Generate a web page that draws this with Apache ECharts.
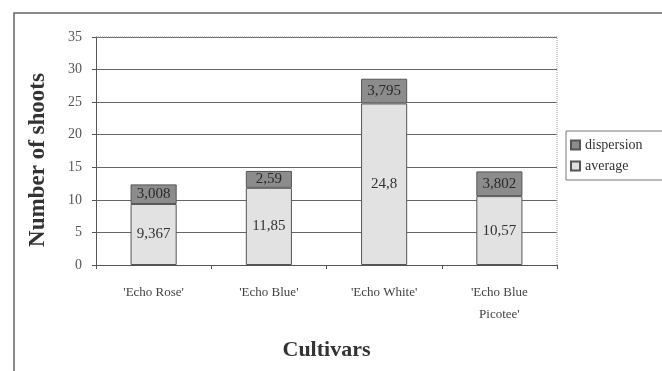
<!DOCTYPE html>
<html>
<head>
<meta charset="utf-8">
<script src="https://cdn.jsdelivr.net/npm/echarts@6/dist/echarts.min.js"></script>
<style>
html,body{margin:0;padding:0;background:#fff;}
#chart{width:662px;height:371px;}
</style>
</head>
<body>
<div id="chart"></div>
<script>
// Shoot counts per cultivar: mean value plus dispersion stacked on top
var cultivars = ["'Echo Rose'", "'Echo Blue'", "'Echo White'", "'Echo Blue\nPicotee'"];
var averageValues = [9.367, 11.85, 24.8, 10.57];
var dispersionValues = [3.008, 2.59, 3.795, 3.802];
var yTicks = [0, 5, 10, 15, 20, 25, 30, 35];

var serif = '"Liberation Serif", "DejaVu Serif", serif';

function commaDecimal(p) { return String(p.value).replace('.', ','); }

var chart = echarts.init(document.getElementById('chart'));
chart.setOption({
  backgroundColor: '#fff',
  animation: false,
  grid: { left: 96, right: 105, top: 37, bottom: 106, show: false },
  graphic: [
    {
      type: 'rect',
      shape: { x: 14, y: 13, width: 680, height: 400 },
      style: { fill: 'none', stroke: '#666', lineWidth: 1.5 },
      silent: true
    },
    {
      // dotted frame along the top and right of the plot area
      type: 'polyline',
      shape: { points: [[96, 37], [557, 37], [557, 265]] },
      style: { stroke: '#999', lineWidth: 1, lineDash: [1, 1], fill: 'none' },
      silent: true,
      z: 5
    }
  ],
  legend: {
    orient: 'vertical',
    left: 566,
    top: 131,
    data: [
      { name: 'dispersion', icon: 'rect' },
      { name: 'average', icon: 'rect' }
    ],
    itemWidth: 9,
    itemHeight: 9,
    itemGap: 7,
    padding: [7, 20, 7, 4],
    borderColor: '#777',
    borderWidth: 1,
    textStyle: { fontFamily: serif, fontSize: 14, color: '#333' }
  },
  xAxis: {
    type: 'category',
    data: cultivars,
    name: 'Cultivars',
    nameLocation: 'middle',
    nameGap: 74,
    nameTextStyle: { fontFamily: serif, fontSize: 22, fontWeight: 'bold', color: '#333' },
    axisLine: { lineStyle: { color: '#555', width: 1 } },
    axisTick: { show: true, length: 4, lineStyle: { color: '#555' } },
    axisLabel: { fontFamily: serif, fontSize: 13, color: '#444', margin: 17, lineHeight: 22 }
  },
  yAxis: {
    type: 'value',
    min: yTicks[0],
    max: yTicks[yTicks.length - 1],
    interval: 5,
    name: 'Number of shoots',
    nameLocation: 'middle',
    nameGap: 46,
    nameTextStyle: { fontFamily: serif, fontSize: 23, fontWeight: 'bold', color: '#333', padding: [0, 18, 0, 0] },
    axisLine: { show: true, lineStyle: { color: '#555', width: 1 } },
    axisTick: { show: true, length: 4, lineStyle: { color: '#555' } },
    axisLabel: { fontFamily: serif, fontSize: 14, color: '#555', margin: 14 },
    splitLine: { lineStyle: { color: '#666', width: 1 } }
  },
  series: [
    {
      name: 'average',
      type: 'bar',
      stack: 'total',
      barWidth: '40%',
      data: averageValues,
      itemStyle: { color: '#e2e2e2', borderColor: '#555', borderWidth: 1 },
      label: {
        show: true,
        position: 'inside',
        fontFamily: serif,
        fontSize: 15,
        color: '#333',
        formatter: commaDecimal
      }
    },
    {
      name: 'dispersion',
      type: 'bar',
      stack: 'total',
      data: dispersionValues,
      itemStyle: { color: '#8c8c8c', borderColor: '#555', borderWidth: 1 },
      label: {
        show: true,
        position: 'inside',
        fontFamily: serif,
        fontSize: 15,
        color: '#2a2a2a',
        formatter: commaDecimal
      }
    }
  ]
});
</script>
</body>
</html>
